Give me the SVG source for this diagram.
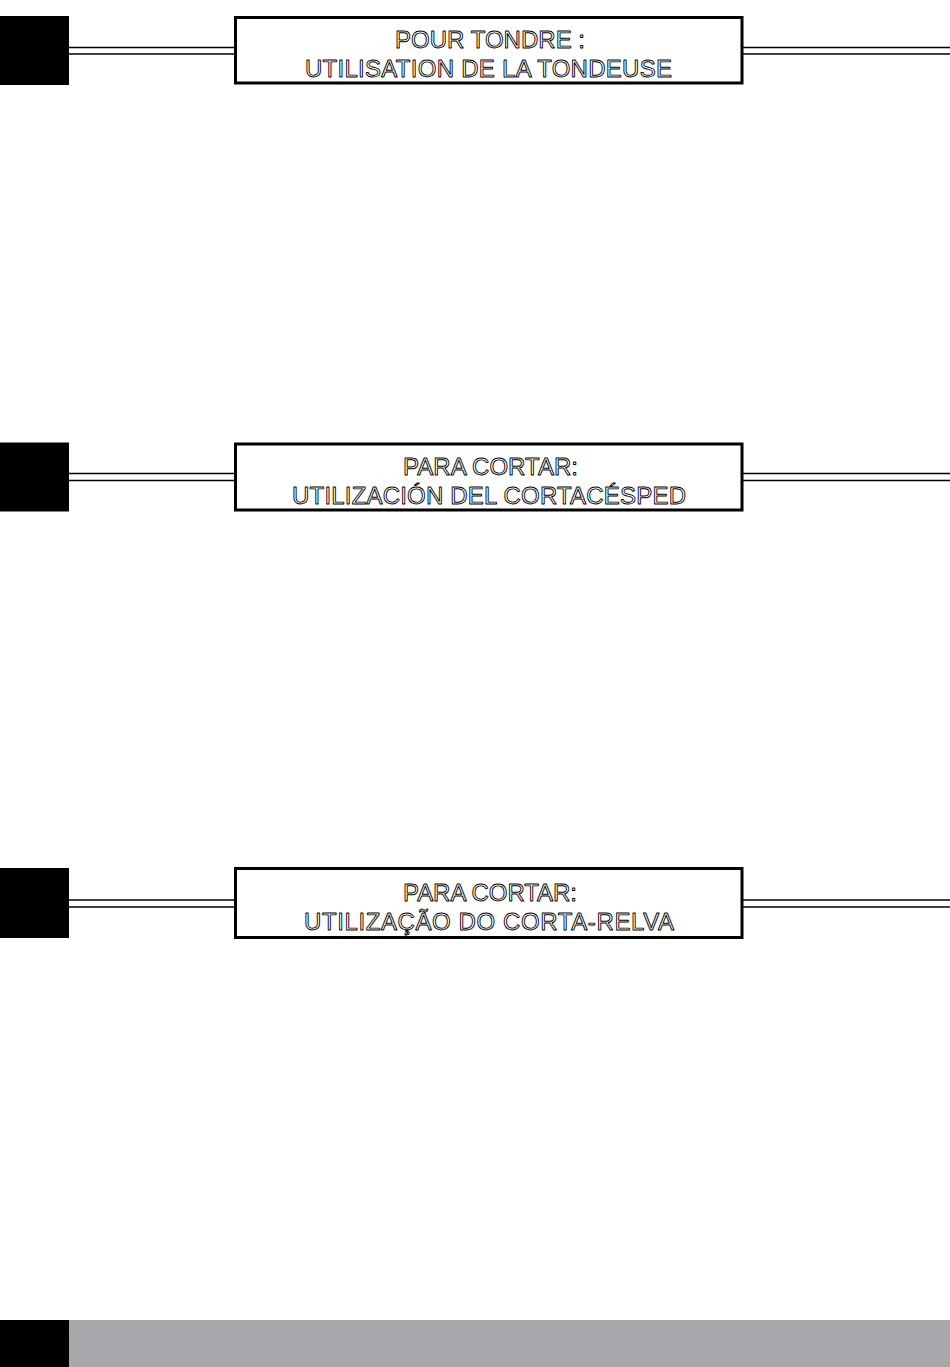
<svg xmlns="http://www.w3.org/2000/svg" width="950" height="1367" viewBox="0 0 950 1367">
<style>
.sq{fill:#000}
.ln{stroke:#000;stroke-width:1.6;fill:none}
.box{fill:#fff;stroke:#000;stroke-width:3}
.t{font-family:"Liberation Sans",Arial,sans-serif;font-size:24px;fill:#fff;stroke:#000;stroke-width:0.9;stroke-linejoin:round;text-anchor:middle}
</style>
<rect width="950" height="1367" fill="#fff"/>
<g id="connectors">
<line class="ln" x1="69" y1="47.5" x2="234" y2="47.5"/>
<line class="ln" x1="69" y1="54" x2="234" y2="54"/>
<line class="ln" x1="743" y1="47.5" x2="950" y2="47.5"/>
<line class="ln" x1="743" y1="54" x2="950" y2="54"/>
<line class="ln" x1="69" y1="473.5" x2="234" y2="473.5"/>
<line class="ln" x1="69" y1="480.5" x2="234" y2="480.5"/>
<line class="ln" x1="743" y1="473.5" x2="950" y2="473.5"/>
<line class="ln" x1="743" y1="480.5" x2="950" y2="480.5"/>
<line class="ln" x1="69" y1="900" x2="234" y2="900"/>
<line class="ln" x1="69" y1="907" x2="234" y2="907"/>
<line class="ln" x1="743" y1="900" x2="950" y2="900"/>
<line class="ln" x1="743" y1="907" x2="950" y2="907"/>
</g>
<g id="marker1"><rect class="sq" x="0" y="16" width="69" height="69"/></g>
<g id="header1">
<rect class="box" x="235.5" y="17.5" width="506.5" height="65.5"/>
<text class="t" x="490" y="48" textLength="190">POUR TONDRE :</text>
<text class="t" x="488.5" y="77" textLength="367">UTILISATION DE LA TONDEUSE</text>
</g>
<g id="marker2"><rect class="sq" x="0" y="442.5" width="69" height="69"/></g>
<g id="header2">
<rect class="box" x="235.5" y="444" width="506.5" height="66"/>
<text class="t" x="490.5" y="474.5" textLength="175">PARA CORTAR:</text>
<text class="t" x="489" y="503.5" textLength="394">UTILIZACIÓN DEL CORTACÉSPED</text>
</g>
<g id="marker3"><rect class="sq" x="0" y="868" width="69" height="70"/></g>
<g id="header3">
<rect class="box" x="235.5" y="868.5" width="506.5" height="69"/>
<text class="t" x="490" y="900.5" textLength="174">PARA CORTAR:</text>
<text class="t" x="489" y="929.5" textLength="370">UTILIZAÇÃO DO CORTA-RELVA</text>
</g>
<g id="footer">
<rect x="0" y="1320" width="950" height="47" fill="#a7a8ab"/>
<rect class="sq" x="0" y="1320" width="69" height="47"/>
</g>
</svg>
